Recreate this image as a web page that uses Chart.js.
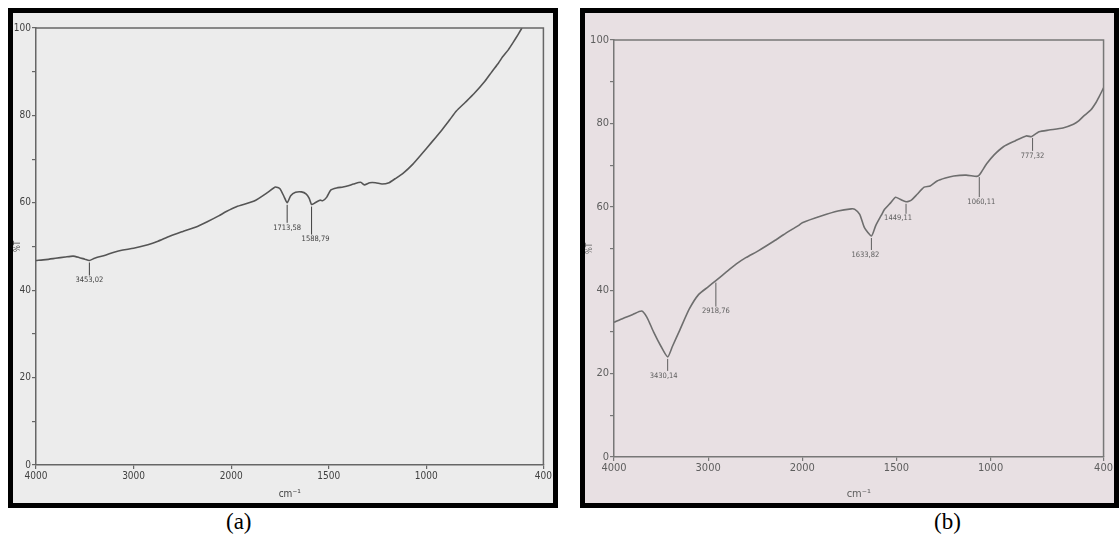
<!DOCTYPE html>
<html>
<head>
<meta charset="utf-8">
<script src="https://cdn.jsdelivr.net/npm/chart.js@4.4.1/dist/chart.umd.min.js"></script>
<style>
    html, body { margin: 0; padding: 0; background: #fff; }
    body { width: 1120px; height: 541px; position: relative; overflow: hidden; }
    .frame {
        position: absolute;
        box-sizing: border-box;
        border: 5px solid #000;
        overflow: hidden;
    }
    .frame canvas { position: absolute; left: 0; top: 0; }
    #frame-a { left: 8px; top: 8px; width: 550px; height: 500px; background: #ececec; }
    #frame-b { left: 580px; top: 8px; width: 539px; height: 500px; background: #e8e0e3; }
    .caption {
        position: absolute;
        top: 509px;
        font-family: "Liberation Serif", serif;
        font-size: 23px;
        color: #000;
    }
</style>
</head>
<body>
<div class="frame" id="frame-a"><canvas id="chart-a"></canvas></div>
<div class="frame" id="frame-b"><canvas id="chart-b"></canvas></div>
<div class="caption" style="left:226px">(a)</div>
<div class="caption" style="left:934px">(b)</div>

<script>
// spectrum (a)
const wavenumbersA = [4000, 3900, 3800, 3700, 3620, 3560, 3500, 3453, 3400, 3290, 3200, 3110, 3000, 2854, 2750,
    2636, 2500, 2346, 2250, 2128, 2050, 1973, 1882, 1809, 1773, 1750, 1730, 1713, 1695, 1670, 1640, 1615, 1600,
    1588, 1570, 1545, 1530, 1510, 1490, 1460, 1427, 1400, 1373, 1336, 1318, 1290, 1260, 1227, 1191, 1160, 1118,
    1070, 1027, 970, 918, 880, 846, 800, 755, 700, 664, 630, 609, 580, 555, 530, 510]
const transA = [46.8, 47.0, 47.3, 47.6, 47.8, 47.5, 47.1, 46.8, 47.3, 48.0, 48.7, 49.2, 49.6, 50.4, 51.2,
    52.3, 53.4, 54.6, 55.6, 57.0, 58.0, 59.1, 60.4, 62.5, 63.6, 63.2, 61.5, 60.0, 61.6, 62.4, 62.5, 62.0, 61.0,
    59.6, 60.0, 60.6, 60.5, 61.3, 62.9, 63.4, 63.6, 63.9, 64.3, 64.7, 64.1, 64.6, 64.6, 64.3, 64.6, 65.5, 66.8,
    68.8, 71.0, 74.0, 76.8, 79.0, 81.0, 83.0, 85.0, 87.8, 90.0, 92.0, 93.4, 95.0, 96.7, 98.5, 100]
const peaksA = [3453, 1713, 1588]
const peakTA = [46.8, 60.0, 59.6]
const peakLabelsA = ['3453,02', '1713,58', '1588,79']

// spectrum (b)
const wavenumbersB = [4000, 3900, 3800, 3706, 3650, 3580, 3500, 3430, 3380, 3300, 3200, 3100, 3000, 2918, 2800,
    2700, 2600, 2464, 2300, 2200, 2100, 2042, 2000, 1900, 1811, 1740, 1721, 1695, 1670, 1633, 1610, 1580, 1563,
    1530, 1505, 1480, 1449, 1430, 1416, 1390, 1353, 1321, 1284, 1240, 1195, 1130, 1074, 1060, 1021, 980, 932,
    870, 811, 784, 777, 742, 690, 616, 560, 532, 500, 468, 440, 426, 400]
const transB = [32.3, 33.3, 34.2, 35.0, 33.5, 30.0, 26.5, 24.0, 26.5, 30.5, 35.5, 39.0, 40.8, 42.3, 44.5,
    46.3, 47.8, 49.5, 51.8, 53.3, 54.7, 55.5, 56.2, 57.8, 59.0, 59.5, 59.4, 58.2, 55.0, 53.0, 55.5, 58.0, 59.4,
    61.0, 62.3, 61.8, 61.2, 61.4, 61.8, 63.0, 64.7, 65.0, 66.2, 66.9, 67.4, 67.6, 67.3, 67.6, 70.3, 72.5, 74.4,
    75.8, 77.0, 76.8, 77.0, 78.0, 78.4, 78.9, 79.8, 80.6, 82.0, 83.2, 85.0, 86.2, 88.5]
const peaksB = [3430, 2918, 1633, 1449, 1060, 777]
const peakTB = [24.0, 42.3, 53.0, 61.2, 67.6, 77.0]
const peakLabelsB = ['3430,14', '2918,76', '1633,82', '1449,11', '1060,11', '777,32']

const xTicks = [4000, 3000, 2000, 1500, 1000, 400]

// wavenumber axis of the spectrometer: 4000-2000 drawn at half the scale of 2000-400
class FtirScale extends Chart.LinearScale {
    static id = 'ftir'
    toU(v) {
        return v >= 2000 ? (4000 - v) / 2 : 1000 + (2000 - v)
    }
    fromU(u) {
        return u <= 1000 ? 4000 - 2 * u : 2000 - (u - 1000)
    }
    getPixelForValue(v) {
        return this.getPixelForDecimal(this.toU(v) / 2600)
    }
    getValueForPixel(p) {
        return this.fromU(this.getDecimalForPixel(p) * 2600)
    }
}
Chart.register(FtirScale)

const peakPlugin = {
    id: 'peaks',
    afterDatasetsDraw(chart, args, opts) {
        const { ctx, chartArea, scales: { x, y } } = chart
        ctx.save()
        // closing top / right lines of the plot box
        ctx.strokeStyle = opts.boxColor
        ctx.lineWidth = 1.5
        ctx.beginPath()
        ctx.moveTo(chartArea.left, chartArea.top)
        ctx.lineTo(chartArea.right, chartArea.top)
        ctx.lineTo(chartArea.right, chartArea.bottom)
        ctx.stroke()

        ctx.strokeStyle = opts.color
        ctx.fillStyle = opts.color
        ctx.lineWidth = 1
        ctx.font = '7.5px "DejaVu Sans Condensed"'
        ctx.textAlign = 'center'
        ctx.textBaseline = 'top'
        opts.wn.forEach((w, i) => {
            const px = x.getPixelForValue(w)
            const py = y.getPixelForValue(opts.t[i])
            const drop = opts.drop[i]
            ctx.beginPath()
            ctx.moveTo(px, py + 2)
            ctx.lineTo(px, py + drop)
            ctx.stroke()
            ctx.fillText(opts.text[i], px + (opts.shift[i] || 0), py + drop + 1)
        })
        ctx.restore()
    }
}

function makeSpectrum(canvasId, size, area, wn, t, peaks, look) {
    const canvas = document.getElementById(canvasId)
    canvas.width = size.w
    canvas.height = size.h
    canvas.style.width = size.w + 'px'
    canvas.style.height = size.h + 'px'

    return new Chart(canvas, {
        type: 'line',
        data: {
            datasets: [{
                data: wn.map((w, i) => ({ x: w, y: t[i] })),
                borderColor: look.line,
                borderWidth: 1.6,
                pointRadius: 0,
                tension: 0.2,
                fill: false
            }]
        },
        options: {
            responsive: false,
            animation: false,
            events: [],
            layout: {
                autoPadding: false,
                padding: { left: 0, top: area.top, right: area.right, bottom: 0 }
            },
            plugins: {
                legend: { display: false },
                tooltip: { enabled: false },
                peaks: Object.assign({ color: look.text, boxColor: look.box }, peaks)
            },
            scales: {
                x: {
                    type: 'ftir',
                    min: 400,
                    max: 4000,
                    afterBuildTicks: s => { s.ticks = xTicks.map(v => ({ value: v })) },
                    afterFit: s => { s.height = area.xh },
                    ticks: {
                        autoSkip: false,
                        maxRotation: 0,
                        padding: 1,
                        color: look.text,
                        font: { family: 'DejaVu Sans Condensed', size: look.tick },
                        callback: v => String(v)
                    },
                    grid: { drawOnChartArea: false, tickLength: 4, color: look.box, lineWidth: 1.2 },
                    border: { color: look.box, width: 1.5 },
                    title: {
                        display: true,
                        text: 'cm⁻¹',
                        color: look.text,
                        font: { family: 'DejaVu Sans Condensed', size: look.tick },
                        padding: { top: 0, bottom: look.titleGap }
                    }
                },
                y: {
                    min: 0,
                    max: 100,
                    afterFit: s => { s.width = area.yw },
                    ticks: {
                        stepSize: 10,
                        padding: 1,
                        color: look.text,
                        font: { family: 'DejaVu Sans Condensed', size: look.tick },
                        callback: v => v % 20 === 0 ? String(v) : ''
                    },
                    grid: { drawOnChartArea: false, tickLength: 4, color: look.box, lineWidth: 1.2 },
                    border: { color: look.box, width: 1.5 },
                    title: {
                        display: true,
                        text: '%T',
                        color: look.text,
                        font: { family: 'DejaVu Sans Condensed', size: 8 },
                        padding: 0
                    }
                }
            }
        },
        plugins: [peakPlugin]
    })
}

makeSpectrum('chart-a', { w: 540, h: 490 }, { top: 15, right: 4, yw: 23, xh: 38 },
    wavenumbersA, transA,
    { wn: peaksA, t: peakTA, text: peakLabelsA, drop: [15, 20, 30], shift: [0, 0, 4] },
    { line: '#555', text: '#3f3f3f', box: '#666', tick: 10, titleGap: 3 })

makeSpectrum('chart-b', { w: 529, h: 490 }, { top: 27, right: 7, yw: 29, xh: 46 },
    wavenumbersB, transB,
    { wn: peaksB, t: peakTB, text: peakLabelsB, drop: [14, 26, 14, 12, 22, 15], shift: [-4, 0, -6, -8, 2, 0] },
    { line: '#6e6e6e', text: '#5e5e5e', box: '#777', tick: 11, titleGap: 2 })
</script>
</body>
</html>
